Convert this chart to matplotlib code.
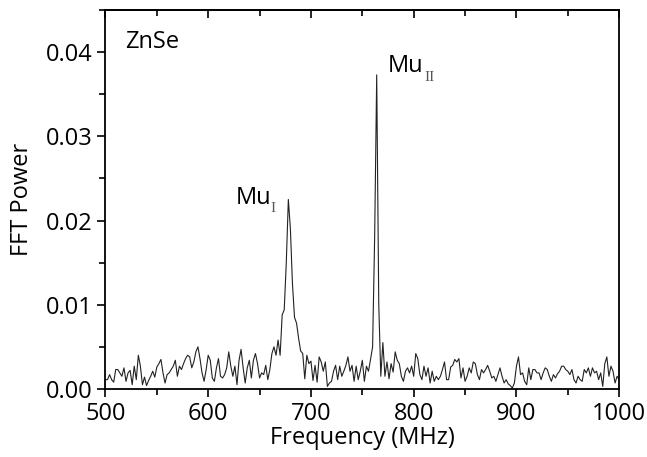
import numpy as np
import matplotlib
matplotlib.use("Agg")
import matplotlib.pyplot as plt
from matplotlib.ticker import MultipleLocator, FormatStrFormatter

# frequency grid (MHz), 2 MHz steps
freq = np.arange(500, 1001, 2)

power_500_580 = [0.0011, 0.0011, 0.0017, 0.0011, 0.0008, 0.0023, 0.0023, 0.0019, 0.0015, 0.0025,
                 0.0009, 0.0019, 0.0022, 0.0005, 0.0027, 0.0011, 0.0040, 0.0027, 0.0005, 0.0014,
                 0.0004, 0.0010, 0.0015, 0.0021, 0.0014, 0.0026, 0.0030, 0.0035, 0.0019, 0.0007,
                 0.0017, 0.0019, 0.0023, 0.0027, 0.0034, 0.0015, 0.0027, 0.0023, 0.0030, 0.0036,
                 0.0040]
power_582_664 = [0.0038, 0.0025, 0.0032, 0.0044, 0.0050, 0.0036, 0.0019, 0.0009, 0.0023, 0.0040,
                 0.0034, 0.0013, 0.0009, 0.0025, 0.0036, 0.0015, 0.0013, 0.0017, 0.0025, 0.0044,
                 0.0027, 0.0015, 0.0027, 0.0005, 0.0034, 0.0047, 0.0025, 0.0007, 0.0025, 0.0034,
                 0.0013, 0.0034, 0.0042, 0.0030, 0.0013, 0.0019, 0.0017, 0.0028, 0.0011, 0.0023,
                 0.0042, 0.0050]
# Mu_I line around 679 MHz
power_666_706 = [0.0040, 0.0058, 0.0040, 0.0088, 0.0094, 0.0150, 0.0225, 0.0190, 0.0125, 0.0085,
                 0.0078, 0.0060, 0.0045, 0.0042, 0.0012, 0.0040, 0.0030, 0.0033, 0.0010, 0.0028,
                 0.0008]
power_708_760 = [0.0038, 0.0032, 0.0021, 0.0032, 0.0003, 0.0007, 0.0009, 0.0021, 0.0028, 0.0011,
                 0.0027, 0.0015, 0.0021, 0.0028, 0.0038, 0.0021, 0.0028, 0.0009, 0.0027, 0.0011,
                 0.0021, 0.0034, 0.0009, 0.0027, 0.0021, 0.0035, 0.0050]
# Mu_II line around 763 MHz
power_762_780 = [0.0180, 0.0373, 0.0100, 0.0015, 0.0055, 0.0015, 0.0032, 0.0012, 0.0030, 0.0020]
power_782_866 = [0.0044, 0.0034, 0.0030, 0.0015, 0.0009, 0.0021, 0.0025, 0.0019, 0.0027, 0.0015,
                 0.0042, 0.0036, 0.0017, 0.0011, 0.0027, 0.0015, 0.0025, 0.0007, 0.0021, 0.0009,
                 0.0015, 0.0011, 0.0015, 0.0023, 0.0032, 0.0011, 0.0011, 0.0026, 0.0028, 0.0035,
                 0.0032, 0.0036, 0.0013, 0.0025, 0.0009, 0.0015, 0.0025, 0.0019, 0.0032, 0.0030,
                 0.0017, 0.0011, 0.0023]
power_868_1000 = [0.0019, 0.0023, 0.0028, 0.0021, 0.0013, 0.0015, 0.0009, 0.0017, 0.0025, 0.0015,
                  0.0007, 0.0011, 0.0006, 0.0004, 0.0001, 0.0007, 0.0027, 0.0038, 0.0017, 0.0019,
                  0.0009, 0.0005, 0.0025, 0.0011, 0.0023, 0.0023, 0.0019, 0.0019, 0.0011, 0.0019,
                  0.0025, 0.0023, 0.0015, 0.0009, 0.0017, 0.0013, 0.0018, 0.0021, 0.0027, 0.0027,
                  0.0023, 0.0021, 0.0017, 0.0023, 0.0011, 0.0007, 0.0015, 0.0011, 0.0009, 0.0023,
                  0.0019, 0.0025, 0.0015, 0.0025, 0.0019, 0.0021, 0.0011, 0.0019, 0.0003, 0.0030,
                  0.0038, 0.0015, 0.0027, 0.0021, 0.0007, 0.0015, 0.0011]

power = np.array(power_500_580 + power_582_664 + power_666_706 + power_708_760
                 + power_762_780 + power_782_866 + power_868_1000)

plt.rcParams['font.family'] = ['Open Sans', 'DejaVu Sans']

fig = plt.figure(figsize=(6.47, 4.57), dpi=100)
ax = fig.add_axes([0.163, 0.149, 0.794, 0.829])

ax.plot(freq, power, color='#222222', lw=0.8)

ax.set_xlim(500, 1000)
ax.set_ylim(0, 0.045)
ax.xaxis.set_major_locator(MultipleLocator(100))
ax.xaxis.set_minor_locator(MultipleLocator(50))
ax.yaxis.set_major_locator(MultipleLocator(0.01))
ax.yaxis.set_minor_locator(MultipleLocator(0.005))
ax.yaxis.set_major_formatter(FormatStrFormatter('%.2f'))

ax.tick_params(which='both', direction='out', labelsize=17, width=1.2, top=False, right=False)
ax.tick_params(which='major', length=6)
ax.tick_params(which='minor', length=4)
for s in ax.spines.values():
    s.set_linewidth(1.3)

# inward ticks on top axis
sec = ax.secondary_xaxis('top')
sec.xaxis.set_major_locator(MultipleLocator(100))
sec.xaxis.set_minor_locator(MultipleLocator(50))
sec.tick_params(which='both', direction='in', labeltop=False, width=1.2)
sec.tick_params(which='major', length=6)
sec.tick_params(which='minor', length=4)
sec.spines['top'].set_linewidth(1.3)

ax.set_xlabel('Frequency (MHz)', fontsize=17, labelpad=0)
ax.set_ylabel('FFT Power', fontsize=17, labelpad=8)

ax.text(519, 0.0412, 'ZnSe', fontsize=17, va='center')

# peak labels: "Mu" plus a small grey serif roman-numeral subscript
ax.text(627, 0.0220, 'Mu', fontsize=17, va='baseline')
ax.text(661, 0.0222, 'I', fontsize=11, va='top', color='#555555',
        family=['Liberation Serif', 'DejaVu Serif'])
ax.text(775, 0.0376, 'Mu', fontsize=17, va='baseline')
ax.text(810, 0.0378, 'II', fontsize=11, va='top', color='#555555',
        family=['Liberation Serif', 'DejaVu Serif'])

fig.savefig('out.png', dpi=100)
